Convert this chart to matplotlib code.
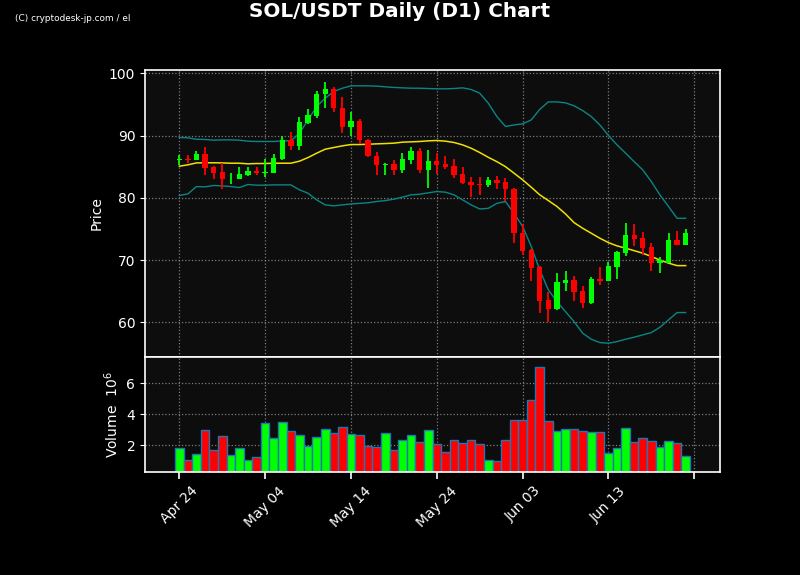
import numpy as np, pandas as pd, matplotlib
matplotlib.use("Agg")
import matplotlib.pyplot as plt
import matplotlib.dates as mdates

# daily candles
dates = pd.date_range("2025-04-24", periods=60, freq="D")
opens = [86.1, 86.3, 86.1, 87.05, 84.96, 84.16, 83.1, 83.09, 83.68, 84.32,
         83.95, 84.05, 86.25, 89.3, 88.34, 92.04, 93.2, 96.6, 97.45, 94.45,
         91.29, 92.36, 89.3, 86.73, 85.23, 85.45, 84.38, 86.09, 87.54, 84.38,
         85.98, 85.45, 85.13, 83.84, 82.55, 82.23, 81.97, 82.88, 82.55, 81.43,
         74.31, 71.63, 68.9, 63.6, 62.1, 66.38, 66.8, 65.04, 63.17, 66.97,
         66.7, 68.95, 71.2, 74.04, 73.56, 72.1, 69.6, 69.6, 73.24, 72.49]
closes = [86.3, 86.1, 87.05, 84.86, 84.05, 83.09, 83.25, 83.79, 84.32, 83.9,
          84.16, 86.36, 89.3, 88.34, 92.2, 93.37, 96.7, 97.5, 94.34, 91.29,
          92.36, 89.3, 86.63, 85.29, 85.34, 84.38, 86.25, 87.54, 84.38, 85.98,
          85.29, 84.96, 83.73, 82.45, 82.13, 81.97, 82.88, 82.45, 81.38, 74.3,
          71.52, 68.79, 63.49, 62.1, 66.49, 66.8, 64.93, 63.17, 66.97, 66.7,
          69.06, 71.31, 74.04, 73.4, 72.0, 69.6, 70.02, 73.24, 72.49, 74.36]
highs = [86.9, 86.8, 87.5, 88.1, 85.1, 85.55, 84.05, 84.9, 85.0, 85.0,
         86.2, 87.05, 90.0, 90.6, 92.95, 94.2, 97.1, 98.57, 97.8, 96.16,
         93.8, 92.7, 89.45, 87.3, 85.66, 86.1, 87.16, 88.1, 87.96, 87.64,
         87.16, 86.7, 86.2, 84.9, 83.3, 83.3, 83.3, 83.5, 83.2, 81.5,
         75.8, 71.7, 69.0, 64.8, 67.88, 68.2, 67.45, 65.84, 67.34, 68.84,
         69.75, 71.4, 76.0, 75.8, 74.57, 72.7, 70.45, 74.3, 74.6, 75.0]
lows = [85.3, 85.6, 86.0, 83.6, 83.0, 81.4, 82.2, 83.0, 83.5, 83.6,
        83.3, 83.9, 86.1, 87.6, 87.7, 91.9, 92.8, 94.4, 93.8, 90.4,
        89.95, 88.66, 86.5, 83.6, 83.6, 83.7, 83.95, 85.4, 84.05, 81.54,
        83.8, 84.7, 83.1, 82.2, 80.1, 80.4, 81.8, 81.4, 79.4, 72.7,
        70.8, 66.7, 61.45, 60.0, 62.0, 65.04, 63.49, 62.25, 63.0, 66.0,
        66.6, 66.97, 70.66, 72.27, 70.8, 68.2, 67.88, 69.5, 72.4, 72.4]
volumes = [1.81, 1.03, 1.42, 2.97, 1.68, 2.58, 1.35, 1.81, 1.03, 1.23,
           3.42, 2.45, 3.48, 2.90, 2.65, 1.94, 2.52, 3.03, 2.77, 3.16,
           2.71, 2.65, 1.94, 1.87, 2.77, 1.68, 2.32, 2.65, 2.19, 2.97,
           2.06, 1.55, 2.32, 2.13, 2.32, 2.06, 1.03, 0.97, 2.32, 3.61,
           3.61, 4.90, 7.03, 3.55, 2.90, 3.03, 3.03, 2.90, 2.84, 2.84,
           1.48, 1.81, 3.10, 2.19, 2.45, 2.26, 1.87, 2.26, 2.13, 1.29]

# indicator lines as drawn (SMA and Bollinger bands)
ma = [85.07, 85.29, 85.6, 85.62, 85.62, 85.6, 85.55, 85.55, 85.45, 85.5,
      85.5, 85.55, 85.55, 85.55, 85.88, 86.46, 87.16, 87.8, 88.07, 88.34,
      88.55, 88.55, 88.6, 88.66, 88.71, 88.77, 88.93, 88.98, 89.04, 89.14,
      89.2, 89.09, 88.88, 88.5, 87.96, 87.27, 86.5, 85.8, 85.0, 83.95,
      82.88, 81.7, 80.47, 79.55, 78.6, 77.4, 76.0, 75.1, 74.3, 73.5,
      72.8, 72.27, 71.9, 71.5, 71.1, 70.56, 70.0, 69.5, 69.1, 69.1]
upper = [89.68, 89.63, 89.4, 89.36, 89.25, 89.3, 89.3, 89.25, 89.09, 89.04,
         89.04, 89.04, 89.14, 89.14, 90.37, 92.5, 94.66, 96.0, 97.07, 97.6,
         97.98, 97.98, 97.98, 97.93, 97.82, 97.72, 97.66, 97.6, 97.6, 97.55,
         97.5, 97.5, 97.55, 97.66, 97.39, 96.8, 95.2, 93.05, 91.45, 91.7,
         91.87, 92.5, 94.2, 95.4, 95.4, 95.25, 94.77, 94.0, 93.05, 91.7,
         90.0, 88.5, 87.16, 85.8, 84.48, 82.6, 80.46, 78.6, 76.7, 76.7]
lower = [80.36, 80.63, 81.8, 81.75, 81.97, 81.92, 81.8, 81.64, 82.13, 82.02,
         82.02, 82.07, 82.07, 82.07, 81.27, 80.73, 79.66, 78.86, 78.7, 78.86,
         79.0, 79.1, 79.2, 79.4, 79.55, 79.77, 80.1, 80.47, 80.57, 80.79,
         81.0, 80.9, 80.47, 79.66, 78.86, 78.2, 78.3, 79.1, 79.4, 77.5,
         75.4, 72.2, 68.4, 65.2, 63.3, 61.7, 60.1, 58.24, 57.27, 56.74,
         56.63, 56.9, 57.27, 57.6, 57.97, 58.34, 59.2, 60.38, 61.56, 61.56]

tick_dates = pd.to_datetime(["2025-04-24", "2025-05-04", "2025-05-14", "2025-05-24",
                             "2025-06-03", "2025-06-13", "2025-06-23"])
tick_labels = ["Apr 24", "May 04", "May 14", "May 24", "Jun 03", "Jun 13", ""]

UP, DOWN = "#00ff00", "#ff0000"
BG, FACE = "black", "#0d0d0d"

df = pd.DataFrame({"open": opens, "high": highs, "low": lows, "close": closes,
                   "vol": volumes, "ma": ma, "up": upper, "lo": lower}, index=dates)
x = mdates.date2num(df.index)
cols = np.where(df["close"] >= df["open"], UP, DOWN)

fig = plt.figure(figsize=(8, 5.75), dpi=100, facecolor=BG)
ax = fig.add_axes([0.18125, 0.38, 0.71875, 0.498])
axv = fig.add_axes([0.18125, 0.179, 0.71875, 0.2], sharex=ax)

for a in (ax, axv):
    a.set_facecolor(FACE)
    for s in a.spines.values():
        s.set_color("white"); s.set_linewidth(1.2)
    a.tick_params(colors="white", labelsize=10)
    a.grid(True, color="#888888", linestyle=":", linewidth=0.9, alpha=0.9)
    a.set_axisbelow(True)

# bands + moving average
ax.plot(x, df["up"], color="#0a8585", lw=1.0)
ax.plot(x, df["lo"], color="#0a8585", lw=1.0)
ax.plot(x, df["ma"], color="#f0e000", lw=1.1)

# candles
ax.vlines(x, df["low"], df["high"], colors=cols, lw=1.3, zorder=3)
body_lo = np.minimum(df["open"], df["close"])
body_h = np.maximum(np.abs(df["close"] - df["open"]), 0.12)
ax.bar(x, body_h, bottom=body_lo, width=0.62, color=cols, zorder=4)

ax.set_ylim(54.5, 100.5)
ax.set_yticks([60, 70, 80, 90, 100])
ax.set_ylabel("Price", color="white", fontsize=10)
ax.tick_params(axis="x", labelbottom=False, length=0)

# volume
axv.bar(x, df["vol"], width=1.0, color=cols, edgecolor="#1f77b4", linewidth=1.0)
axv.set_ylim(0.25, 7.7)
axv.set_yticks([2, 4, 6])
axv.set_ylabel(r"Volume  $10^6$", color="white", fontsize=10)
axv.set_xlim(mdates.date2num(pd.Timestamp("2025-04-20")), mdates.date2num(pd.Timestamp("2025-06-26")))
axv.set_xticks(mdates.date2num(tick_dates))
axv.set_xticklabels(tick_labels, rotation=45)
axv.tick_params(axis="x", length=5, width=1.2)

fig.suptitle("SOL/USDT Daily (D1) Chart", color="white", fontsize=14.4, fontweight="bold", y=0.997)
fig.text(0.019, 0.963, "(C) cryptodesk-jp.com / el", color="white", fontsize=6.4,
         family=["Liberation Sans Narrow", "DejaVu Sans"])

plt.savefig("out.png", dpi=100, facecolor=BG)
plt.close()
print("[OK] out.png")
